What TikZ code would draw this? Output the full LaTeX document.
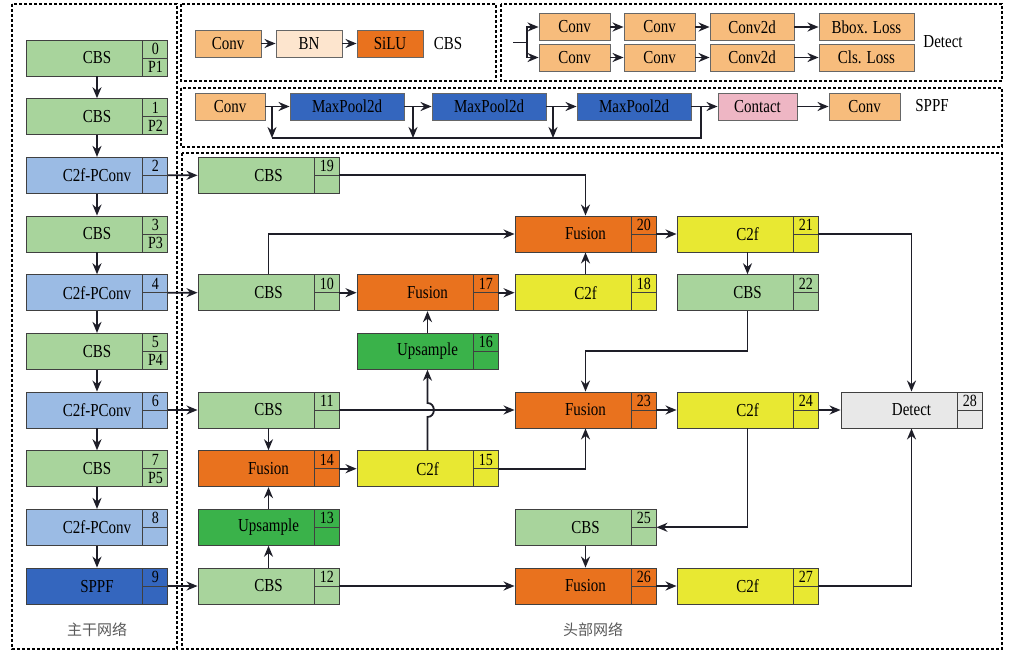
\documentclass[tikz,border=0pt]{standalone}
\usepackage{fontspec}
\setmainfont{Liberation Serif}
\newfontfamily\cjk{Noto Sans CJK SC}
\usetikzlibrary{arrows.meta}

\definecolor{cbsgreen}{RGB}{168,212,156}
\definecolor{pconvblue}{RGB}{155,187,228}
\definecolor{sppfblue}{RGB}{52,102,190}
\definecolor{fusionorange}{RGB}{233,114,30}
\definecolor{upgreen}{RGB}{58,178,74}
\definecolor{c2fyellow}{RGB}{232,232,50}
\definecolor{detectgrey}{RGB}{232,232,232}
\definecolor{convorange}{RGB}{247,188,124}
\definecolor{bnpeach}{RGB}{253,229,206}
\definecolor{contactpink}{RGB}{238,182,196}
\definecolor{linecol}{RGB}{30,30,40}

% taller text, as in the figure
\newcommand{\tx}[1]{\scalebox{1}[1.22]{#1}}
% block with index cell: name, position, colour, label, number, sub-label
\newcommand{\blk}[6]{%
  \node[blk,fill=#3] (#1) at (#2) {\tx{#4}};
  \node[idx] at ([xshift=-12.5pt,yshift=9pt]#1.east) {\tx{#5}};
  \node[idx] at ([xshift=-12.5pt,yshift=-9pt]#1.east) {\tx{#6}};
}

\begin{document}
\begin{tikzpicture}[x=1pt,y=-1pt,>={Stealth[length=11pt,width=9pt]},
  font=\fontsize{15}{17}\selectfont,
  blk/.style={draw=black!75,line width=0.9pt,minimum width=141pt,minimum height=36pt,inner sep=0pt,
    path picture={\draw[line width=0.9pt] ([xshift=-25pt]path picture bounding box.north east)
      -- ([xshift=-25pt]path picture bounding box.south east)
      ([xshift=-25pt]path picture bounding box.east) -- (path picture bounding box.east);}},
  idx/.style={inner sep=0pt,font=\fontsize{14}{16}\selectfont},
  op/.style={draw=black!60,line width=0.9pt,minimum height=27pt,inner sep=0pt},
  frame/.style={draw,line width=1.5pt,dash pattern=on 3pt off 2pt},
  ar/.style={->,draw=linecol,line width=1.8pt},
  ln/.style={draw=linecol,line width=1.8pt}]
  \useasboundingbox (0,0) rectangle (1009,653);

  % frames
  \draw[frame] (12,4) rectangle (177,649);
  \draw[frame] (181,4) rectangle (496,81);
  \draw[frame] (501,4) rectangle (1002,81);
  \draw[frame] (181,88) rectangle (1002,147);
  \draw[frame] (182,153) rectangle (1002,649);

  % CBS legend
  \node[op,fill=convorange,minimum width=66pt] (lconv) at (228,43.5) {\tx{Conv}};
  \node[op,fill=bnpeach,minimum width=66pt] (lbn) at (309,43.5) {\tx{BN}};
  \node[op,fill=fusionorange,minimum width=66pt] (lsilu) at (390,43.5) {\tx{SiLU}};
  \node (lcbs) at (448,44) {\tx{CBS}};
  \draw[ar] (lconv) -- (lbn);
  \draw[ar] (lbn) -- (lsilu);

  % Detect legend
  \node[op,fill=convorange,minimum width=71pt] (dc1) at (574.5,27) {\tx{Conv}};
  \node[op,fill=convorange,minimum width=71pt] (dc2) at (659.5,27) {\tx{Conv}};
  \node[op,fill=convorange,minimum width=84pt] (dc3) at (752,27) {\tx{Conv2d}};
  \node[op,fill=convorange,minimum width=95pt] (dc4) at (866.5,27) {\tx{Bbox. Loss}};
  \node[op,fill=convorange,minimum width=71pt] (dc5) at (574.5,57.5) {\tx{Conv}};
  \node[op,fill=convorange,minimum width=71pt] (dc6) at (659.5,57.5) {\tx{Conv}};
  \node[op,fill=convorange,minimum width=84pt] (dc7) at (752,57.5) {\tx{Conv2d}};
  \node[op,fill=convorange,minimum width=95pt] (dc8) at (866.5,57.5) {\tx{Cls. Loss}};
  \node (ldet) at (943,42) {\tx{Detect}};
  \coordinate (din) at (513,42.5);
  \coordinate (dsplit) at (527,42.5);
  \draw[ln] (din) -- (dsplit);
  \draw[ar] (dsplit) |- (dc1);
  \draw[ar] (dsplit) |- (dc5);
  \foreach \a/\b in {dc1/dc2,dc2/dc3,dc3/dc4,dc5/dc6,dc6/dc7,dc7/dc8}
    \draw[ar] (\a) -- (\b);

  % SPPF legend
  \node[op,fill=convorange,minimum width=70pt] (sconv) at (230,106.5) {\tx{Conv}};
  \node[op,fill=sppfblue,minimum width=114pt] (mp1) at (347,106.5) {\tx{MaxPool2d}};
  \node[op,fill=sppfblue,minimum width=114pt] (mp2) at (489,106.5) {\tx{MaxPool2d}};
  \node[op,fill=sppfblue,minimum width=114pt] (mp3) at (634,106.5) {\tx{MaxPool2d}};
  \node[op,fill=contactpink,minimum width=79pt] (cat) at (757.5,106.5) {\tx{Contact}};
  \node[op,fill=convorange,minimum width=71pt] (sout) at (864.5,106.5) {\tx{Conv}};
  \node (lsppf) at (932,106) {\tx{SPPF}};
  \foreach \a/\b in {sconv/mp1,mp1/mp2,mp2/mp3,mp3/cat,cat/sout}
    \draw[ar] (\a) -- (\b);
  \coordinate (s1) at (272,138);
  \coordinate (s2) at (413,138);
  \coordinate (s3) at (553,138);
  \coordinate (s4) at (701,138);
  \draw[ar] (s1 |- sconv) -- (s1);
  \draw[ar] (s2 |- mp1) -- (s2);
  \draw[ar] (s3 |- mp2) -- (s3);
  \draw[ln] (s1) -- (s4) -- (s4 |- mp3);

  % backbone
  \foreach \i/\lab/\col/\sub in {0/CBS/cbsgreen/P1, 1/CBS/cbsgreen/P2,
      2/C2f-PConv/pconvblue/{}, 3/CBS/cbsgreen/P3, 4/C2f-PConv/pconvblue/{},
      5/CBS/cbsgreen/P4, 6/C2f-PConv/pconvblue/{}, 7/CBS/cbsgreen/P5,
      8/C2f-PConv/pconvblue/{}, 9/SPPF/sppfblue/{}}
    {\blk{b\i}{97,{58+58.67*\i}}{\col}{\lab}{\i}{\sub}}
  \foreach \i [count=\j] in {0,...,8}
    \draw[ar] (b\i) -- (b\j);
  \node[text=black!65] (bbl) at (97,630) {\cjk 主干网络};

  % head
  \blk{h19}{268.5,175.3}{cbsgreen}{CBS}{19}{}
  \blk{h10}{268.5,292.7}{cbsgreen}{CBS}{10}{}
  \blk{h11}{268.5,410}{cbsgreen}{CBS}{11}{}
  \blk{h14}{268.5,468.7}{fusionorange}{Fusion}{14}{}
  \blk{h13}{268.5,527.3}{upgreen}{Upsample}{13}{}
  \blk{h12}{268.5,586}{cbsgreen}{CBS}{12}{}
  \blk{h17}{427.5,292.7}{fusionorange}{Fusion}{17}{}
  \blk{h16}{427.5,351.3}{upgreen}{Upsample}{16}{}
  \blk{h15}{427.5,468.7}{c2fyellow}{C2f}{15}{}
  \blk{h20}{585.5,234}{fusionorange}{Fusion}{20}{}
  \blk{h18}{585.5,292.7}{c2fyellow}{C2f}{18}{}
  \blk{h23}{585.5,410}{fusionorange}{Fusion}{23}{}
  \blk{h25}{585.5,527.3}{cbsgreen}{CBS}{25}{}
  \blk{h26}{585.5,586}{fusionorange}{Fusion}{26}{}
  \blk{h21}{747.5,234}{c2fyellow}{C2f}{21}{}
  \blk{h22}{747.5,292.7}{cbsgreen}{CBS}{22}{}
  \blk{h24}{747.5,410}{c2fyellow}{C2f}{24}{}
  \blk{h27}{747.5,586}{c2fyellow}{C2f}{27}{}
  \blk{h28}{911.5,410}{detectgrey}{Detect}{28}{}
  \node[text=black!65] (hdl) at (593,630) {\cjk 头部网络};

  \draw[ar] (b2) -- (h19);
  \draw[ar] (b4) -- (h10);
  \draw[ar] (b6) -- (h11);
  \draw[ar] (b9) -- (h12);
  \draw[ar] (h19) -| (h20);
  \draw[ar] (h10) |- (h20);
  \draw[ar] (h10) -- (h17);
  \draw[ar] (h17) -- (h18);
  \draw[ar] (h18) -- (h20);
  \draw[ar] (h20) -- (h21);
  \draw[ar] (h21) -- (h22);
  \draw[ar] (h21) -| (h28);
  \draw[ar] (h16) -- (h17);
  \coordinate (hop1) at (427.5,417);
  \coordinate (hop2) at (427.5,403);
  \draw[ar] (h15) -- (hop1) .. controls (436,417) and (436,403) .. (hop2) -- (h16);
  \draw[ar] (h11) -- (h23);
  \draw[ar] (h11) -- (h14);
  \draw[ar] (h14) -- (h15);
  \draw[ar] (h15) -| (h23);
  \coordinate (k1) at (747.5,351);
  \draw[ar] (h22) -- (k1) -| (h23);
  \draw[ar] (h23) -- (h24);
  \draw[ar] (h24) -- (h28);
  \draw[ar] (h24) |- (h25);
  \draw[ar] (h25) -- (h26);
  \draw[ar] (h12) -- (h26);
  \draw[ar] (h12) -- (h13);
  \draw[ar] (h13) -- (h14);
  \draw[ar] (h26) -- (h27);
  \draw[ar] (h27) -| (h28);
\end{tikzpicture}
\end{document}
